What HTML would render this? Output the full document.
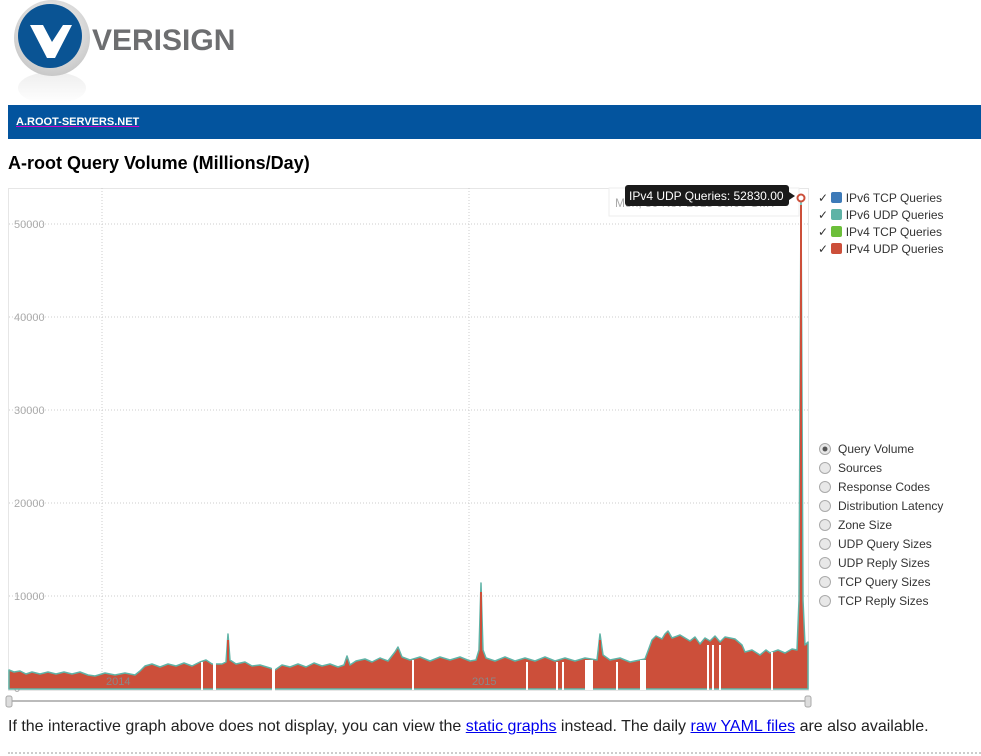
<!DOCTYPE html>
<html><head><meta charset="utf-8"><style>
body{margin:0;background:#fff;font-family:"Liberation Sans",Arial,sans-serif;width:981px;height:756px;overflow:hidden;position:relative}
.abs{position:absolute}
.leg{position:absolute;left:818px;font-size:12px;color:#333}
.radio{position:absolute;left:819px;font-size:12px;color:#333}
.radio span{display:inline-block;width:10px;height:10px;border-radius:50%;border:1px solid #aaa;background:#e8e8e8;vertical-align:-2px;margin-right:7px}
</style></head><body>
<svg class="abs" style="left:8px;top:0px" width="90" height="104">
<defs><radialGradient id="g" cx="50%" cy="40%" r="60%"><stop offset="0" stop-color="#fff"/><stop offset="1" stop-color="#c8c8c8"/></radialGradient>
<linearGradient id="r" x1="0" y1="0" x2="0" y2="1"><stop offset="0" stop-color="#eee"/><stop offset="1" stop-color="#fff"/></linearGradient></defs>
<ellipse cx="44" cy="88" rx="34" ry="16" fill="url(#r)"/>
<circle cx="44" cy="38" r="38" fill="url(#g)"/>
<circle cx="42" cy="36" r="32" fill="#0a5494"/>
<path d="M22 25 L35 25 L44 42 L55 25 L64 25 L47 58 L39 58 Z" fill="#fff"/>
</svg>
<div class="abs" style="left:92px;top:24px;font-size:30px;font-weight:bold;color:#6d6e70">VERISIGN</div>
<div class="abs" style="left:8px;top:105px;width:973px;height:34px;background:#03549e"></div>
<div class="abs" style="left:16px;top:116px;font-size:11px;font-weight:bold;color:#fff;text-decoration:underline;text-decoration-color:#c0c">A.ROOT-SERVERS.NET</div>
<div class="abs" style="left:8px;top:153px;font-size:18px;font-weight:bold;color:#000">A-root Query Volume (Millions/Day)</div>
<svg class="abs" style="left:0;top:0" width="981" height="756">
<rect x="8.5" y="188.5" width="800" height="502" fill="none" stroke="#e6e6e6"/>
<g stroke="#ccc" stroke-dasharray="1,2">
<line x1="9" x2="808" y1="224" y2="224"/><line x1="9" x2="808" y1="317" y2="317"/><line x1="9" x2="808" y1="410" y2="410"/><line x1="9" x2="808" y1="503" y2="503"/><line x1="9" x2="808" y1="596" y2="596"/>
<line x1="102" x2="102" y1="188" y2="689"/><line x1="469" x2="469" y1="188" y2="689"/>
</g>
<g font-size="11" fill="#aaa">
<text x="14" y="228">50000</text><text x="14" y="321">40000</text><text x="14" y="414">30000</text><text x="14" y="507">20000</text><text x="14" y="600">10000</text><text x="14" y="692">0</text>
</g>
<path d="M9 689 L9 670 L14 672 L20 671 L26 674 L32 672 L40 674 L48 672 L56 674 L64 672 L72 674 L80 672 L88 675 L95 676 L105 673 L115 675 L125 673 L135 675 L140 671 L145 666 L152 664 L160 667 L168 664 L176 666 L184 663 L192 666 L200 662 L206 660 L212 664 L222 664 L226 662 L228 634 L230 660 L236 664 L245 662 L252 666 L260 665 L270 668 L275 670 L282 665 L290 667 L298 664 L306 667 L314 663 L322 666 L330 664 L338 667 L344 665 L347 656 L350 665 L356 661 L365 659 L372 662 L380 658 L388 661 L395 652 L398 647 L402 657 L410 660 L420 657 L430 661 L440 657 L450 660 L460 657 L470 661 L476 660 L479 650 L481 583 L483 650 L486 658 L495 661 L505 657 L515 661 L525 658 L535 661 L545 657 L555 661 L565 658 L575 661 L585 658 L597 660 L600 634 L603 655 L610 660 L620 658 L630 662 L640 660 L645 659 L648 651 L652 640 L656 636 L662 639 L665 634 L668 631 L672 638 L680 635 L690 641 L695 637 L700 644 L705 638 L710 641 L715 636 L720 642 L725 637 L735 639 L742 645 L745 652 L752 650 L760 655 L766 650 L770 653 L778 650 L785 653 L792 649 L797 650 L799 600 L801 198 L803 600 L805 645 L808 642 L808 689 Z" fill="#cc4f3a" stroke="#5fb3a6" stroke-width="1.5" stroke-linejoin="round"/>
<g stroke="#cc4f3a" stroke-width="2">
<line x1="228" y1="640" x2="228" y2="670"/><line x1="481" y1="592" x2="481" y2="670"/><line x1="801" y1="205" x2="801" y2="680"/><line x1="600" y1="640" x2="600" y2="670"/>
</g>
<g fill="#fff">
<rect x="201" y="662" width="2" height="28"/><rect x="213" y="662" width="3" height="28"/><rect x="272" y="664" width="3" height="28"/><rect x="412" y="660" width="2" height="30"/>
<rect x="526" y="662" width="2" height="28"/><rect x="556" y="662" width="2" height="28"/><rect x="562" y="662" width="2" height="28"/><rect x="585" y="660" width="8" height="30"/><rect x="616" y="662" width="2" height="28"/><rect x="640" y="660" width="6" height="30"/><rect x="707" y="645" width="2" height="45"/><rect x="712" y="645" width="2" height="45"/><rect x="719" y="645" width="2" height="45"/><rect x="771" y="652" width="2" height="38"/>
</g>
<text x="106" y="685" font-size="11" fill="#888">2014</text><text x="472" y="685" font-size="11" fill="#888">2015</text>
<line x1="9" x2="808" y1="701" y2="701" stroke="#bbb" stroke-width="2"/>
<rect x="6" y="696" width="6" height="11" rx="2" fill="#ddd" stroke="#aaa"/><rect x="805" y="696" width="6" height="11" rx="2" fill="#ddd" stroke="#aaa"/>
<rect x="609" y="188" width="190" height="28" fill="#fff" stroke="#eee"/>
<text x="615" y="207" font-size="12" fill="#aaa">Mon, 30 Nov 2015 00:00 GMT</text>
<rect x="625" y="185" width="164" height="21" rx="3" fill="#1a1a1a"/>
<path d="M789 192 L795 196 L789 200Z" fill="#1a1a1a"/>
<text x="629" y="200" font-size="12" fill="#fff">IPv4 UDP Queries: 52830.00</text>
<circle cx="801" cy="198" r="3.5" fill="#fff" stroke="#cc4f3a" stroke-width="2"/>
</svg>
<div class="leg" style="top:191px">✓ <span style="display:inline-block;width:11px;height:11px;background:#3d7ab8;border-radius:2px;vertical-align:-1px"></span> IPv6 TCP Queries</div>
<div class="leg" style="top:208px">✓ <span style="display:inline-block;width:11px;height:11px;background:#5fb3a6;border-radius:2px;vertical-align:-1px"></span> IPv6 UDP Queries</div>
<div class="leg" style="top:225px">✓ <span style="display:inline-block;width:11px;height:11px;background:#6cbf3a;border-radius:2px;vertical-align:-1px"></span> IPv4 TCP Queries</div>
<div class="leg" style="top:242px">✓ <span style="display:inline-block;width:11px;height:11px;background:#cc4f3a;border-radius:2px;vertical-align:-1px"></span> IPv4 UDP Queries</div>
<div class="radio" style="top:442px"><span style="background:radial-gradient(#555 30%,#e8e8e8 40%)"></span>Query Volume</div>
<div class="radio" style="top:461px"><span></span>Sources</div>
<div class="radio" style="top:480px"><span></span>Response Codes</div>
<div class="radio" style="top:499px"><span></span>Distribution Latency</div>
<div class="radio" style="top:518px"><span></span>Zone Size</div>
<div class="radio" style="top:537px"><span></span>UDP Query Sizes</div>
<div class="radio" style="top:556px"><span></span>UDP Reply Sizes</div>
<div class="radio" style="top:575px"><span></span>TCP Query Sizes</div>
<div class="radio" style="top:594px"><span></span>TCP Reply Sizes</div>
<div class="abs" style="left:8px;top:718px;font-size:16px;color:#222">If the interactive graph above does not display, you can view the <span style="color:#00e;text-decoration:underline">static graphs</span> instead. The daily <span style="color:#00e;text-decoration:underline">raw YAML files</span> are also available.</div>
<div class="abs" style="left:8px;top:752px;width:973px;border-top:2px dotted #ccc"></div>
</body></html>
